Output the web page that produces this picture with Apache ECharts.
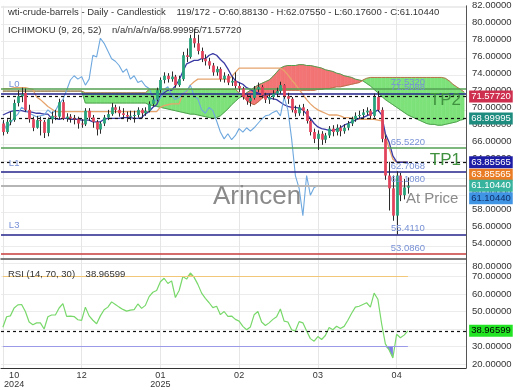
<!DOCTYPE html>
<html><head><meta charset="utf-8">
<script src="https://cdn.jsdelivr.net/npm/echarts@6/dist/echarts.min.js"></script>
<style>html,body{margin:0;padding:0;background:#fff}#c{width:520px;height:390px}</style>
</head><body><div id="c"></div>
<script>
// ---------- data ----------
const barCount = 124;                       // 109 price bars + future slots for the shifted cloud
const tickBars = [3, 21, 42, 63, 84, 105];
const tickTexts = ['10\n2024', '12', '01\n2025', '02', '03', '04'];
const gridBars = [0, 21, 42, 63, 84, 105];

const opens = [68.4,67.4,68.6,68.8,70.8,71.6,72.0,70.0,68.9,67.9,
 68.8,68.6,67.3,68.9,69.3,69.2,70.9,69.0,69.2,69.0,
 68.9,68.4,68.3,69.9,69.1,68.6,67.7,68.4,69.1,69.5,
 70.3,70.0,69.6,69.4,69.2,69.3,69.4,70.0,69.6,69.9,
 70.7,71.2,72.3,73.5,74.0,73.6,73.9,72.9,73.6,76.4,
 76.2,78.4,77.8,76.9,76.0,75.7,75.2,74.4,74.8,73.6,
 74.0,73.2,73.4,72.8,72.5,71.5,71.0,71.4,72.4,72.7,
 71.7,71.2,71.5,71.9,72.2,72.9,71.6,71.3,70.0,69.6,
 70.3,69.9,68.7,67.4,66.6,67.2,66.5,67.0,67.8,67.4,
 67.9,67.5,67.9,68.4,68.9,69.3,69.4,69.7,69.9,69.3,
 71.5,70.0,66.6,62.3,60.8,57.6,62.3,60.0,60.8813];
const closes = [67.4,68.6,68.8,70.8,71.6,71.8,70.0,68.9,67.9,68.8,
 68.7,67.3,68.9,69.3,69.2,70.9,69.0,69.2,69.0,68.9,
 68.4,68.3,69.9,69.1,68.6,67.7,68.4,69.1,69.5,70.3,
 70.0,69.6,69.4,69.2,69.3,69.4,70.0,69.6,69.9,70.7,
 71.2,72.3,73.5,74.0,73.6,73.9,72.9,73.6,76.4,76.2,
 78.4,77.8,76.9,76.0,75.7,75.2,74.4,74.8,73.6,74.0,
 73.2,73.4,72.8,72.5,71.5,71.0,71.4,72.4,72.7,71.7,
 71.2,71.5,71.9,72.2,72.9,71.6,71.3,70.0,69.6,70.3,
 69.9,68.7,67.4,66.6,67.2,66.5,67.0,67.8,67.4,67.9,
 67.5,67.9,68.4,68.9,69.3,69.4,69.7,69.9,69.3,71.5,
 70.0,66.6,62.3,60.8,57.6,62.3,60.0,60.9,61.1044];
const highs = [68.8,68.9,69.8,71.2,72.3,72.6,72.5,70.6,69.2,69.3,
 69.2,68.8,69.1,69.8,70.0,71.3,71.2,69.6,69.5,69.4,
 69.2,68.9,70.2,70.2,69.4,68.8,68.6,69.4,70.0,70.8,
 70.6,70.4,70.2,69.8,69.9,69.9,70.3,70.2,70.3,71.0,
 71.6,72.6,73.8,74.4,74.3,74.5,74.1,74.0,76.8,77.2,
 78.8,79.5,78.8,77.3,76.5,76.1,75.5,75.1,75.0,74.4,
 74.2,73.9,74.4,73.2,72.7,71.8,71.7,72.8,73.2,72.9,
 72.0,71.9,72.3,72.6,73.3,73.0,72.0,71.5,70.5,70.6,
 70.7,70.1,68.9,67.8,67.6,67.5,67.3,68.1,68.2,68.3,
 68.2,68.3,68.7,69.2,69.7,69.9,70.1,70.3,70.1,71.9,
 72.2,70.3,67.0,63.9,62.3,62.8,62.6,61.9,62.0755];
const lows = [67.0,67.2,68.2,68.6,70.4,70.9,69.8,68.5,67.5,67.8,
 67.0,66.7,66.9,68.4,68.8,68.9,68.8,68.6,68.5,68.3,
 67.8,67.9,68.1,68.7,67.9,67.0,67.2,68.1,68.8,69.3,
 69.6,69.2,69.0,68.6,68.8,68.5,69.1,69.0,69.3,69.7,
 70.4,71.0,72.0,73.1,73.2,73.3,72.6,72.7,73.4,75.6,
 76.0,77.3,76.5,75.6,75.2,74.8,74.0,74.0,73.3,73.2,
 72.9,72.8,72.5,72.1,71.2,70.6,70.4,71.2,72.1,71.4,
 70.8,70.7,71.2,71.6,71.9,71.3,70.7,69.7,69.2,69.3,
 69.3,68.4,67.0,66.1,65.3,65.9,66.1,66.7,66.9,67.0,
 66.9,67.2,67.6,68.1,68.6,69.0,69.1,69.4,68.9,69.1,
 69.8,66.2,61.8,58.2,57.0,55.4,59.3,59.5,60.176];

const tenkan = [69.4,69.6,69.8,69.9,69.9,69.9,69.8,69.8,69.7,69.6,
 69.6,69.5,69.5,69.0,69.0,68.9,69.0,69.0,68.9,68.9,
 68.9,68.8,68.8,68.8,68.6,68.6,68.6,68.9,69.0,69.0,
 69.0,69.0,69.1,69.1,69.1,69.0,69.0,69.1,69.5,69.8,
 70.3,70.6,71.6,72.0,72.3,72.3,72.8,73.5,74.5,75.4,
 75.6,75.8,75.8,76.0,76.0,76.4,76.6,76.4,75.9,75.5,
 74.8,74.0,73.4,73.2,73.0,72.6,72.4,72.1,72.0,71.8,
 71.6,71.4,71.3,71.2,70.9,70.6,70.4,70.3,70.3,70.2,
 70.0,69.5,69.0,68.4,68.0,67.8,67.7,67.6,67.6,67.7,
 67.9,68.2,68.4,68.6,68.8,69.0,69.1,69.3,69.5,69.7,
 70.0,69.4,67.2,66.2,64.6,63.9,63.86,63.86,63.86];
const kijun = [72.5,72.5,72.5,72.6,72.6,72.6,72.6,72.5,72.4,71.5,
 71.2,70.8,70.4,70.1,69.8,69.8,69.8,69.8,69.8,69.8,
 69.8,69.8,69.8,69.8,69.8,69.8,69.8,69.8,69.8,69.8,
 69.8,69.8,69.8,69.8,69.8,69.8,69.8,69.8,69.8,69.8,
 69.8,69.8,70.3,70.5,70.6,70.7,70.7,70.7,71.9,72.1,
 72.9,73.3,73.6,73.6,73.6,73.6,73.6,73.6,73.6,73.6,
 73.6,73.9,74.4,74.9,74.9,74.9,74.9,74.9,74.9,74.9,
 74.9,74.9,74.9,74.9,74.9,74.6,74.1,73.5,73.0,72.4,
 71.8,71.2,70.7,70.3,70.0,69.8,69.6,69.4,69.4,69.4,
 69.3,69.1,69.1,69.0,69.0,68.9,68.9,68.9,68.9,68.9,
 68.8,68.7,66.9,65.5,64.2,63.86,63.86,63.86,63.86];
const chikou = [68.6,67.7,68.4,69.1,69.5,70.3,70.0,69.6,69.4,69.2,
 69.3,69.4,70.0,69.6,69.9,70.7,71.2,72.3,73.5,74.0,
 73.6,73.9,72.9,73.6,76.4,76.2,78.4,77.8,76.9,76.0,
 75.7,75.2,74.4,74.8,73.6,74.0,73.2,73.4,72.8,72.5,
 71.5,71.0,71.4,72.4,72.7,71.7,71.2,71.5,71.9,72.2,
 72.9,71.6,71.3,70.0,69.6,70.3,69.9,68.7,67.4,66.6,
 67.2,66.5,67.0,67.8,67.4,67.9,67.5,67.9,68.4,68.9,
 69.3,69.4,69.7,69.9,69.3,71.5,70.0,66.6,62.3,60.8,
 57.6,62.3,60.0,60.9,61.1];
const spanA = [72.2,72.2,72.2,72.2,72.2,72.2,72.2,72.2,72.2,72.2,
 72.2,72.2,72.2,72.2,72.2,72.2,72.2,72.2,72.2,72.2,
 72.2,72.2,70.8,70.8,70.8,70.8,70.8,70.8,70.8,70.8,
 70.8,70.8,70.8,70.8,70.8,70.8,70.8,70.8,70.8,70.6,
 70.5,70.4,70.3,70.2,70.1,70.0,69.9,69.8,69.7,69.6,
 69.5,69.5,69.4,69.3,69.2,69.1,69.0,69.1,69.3,69.7,
 70.1,70.6,71.0,71.4,71.7,72.0,72.3,72.6,72.9,73.1,
 73.3,73.5,73.9,74.4,74.9,75.1,75.2,75.2,75.2,75.3,
 75.3,75.2,75.2,75.1,75.0,74.9,74.7,74.6,74.5,74.3,
 74.2,74.0,73.9,73.8,73.6,73.5,73.4,73.1,72.8,72.4,
 72.0,71.6,71.2,70.9,70.6,70.3,70.0,69.7,69.4,69.2,
 69.0,68.8,68.6,68.4,68.3,68.3,68.2,68.2,68.3,68.4,
 68.5,68.6,68.8,68.9];
const spanB = [72.2,72.2,72.2,72.2,72.2,72.2,72.2,72.2,72.2,72.2,
 72.2,72.2,72.2,72.2,72.2,72.2,72.2,72.2,72.2,72.2,
 72.2,72.2,72.0,72.0,72.0,72.0,72.0,72.0,72.0,72.0,
 72.0,72.0,72.0,72.0,72.0,72.0,72.0,72.0,72.0,72.4,
 72.4,72.4,72.4,72.4,72.4,72.4,72.4,72.4,72.4,72.4,
 72.4,72.4,72.4,72.4,72.4,72.4,72.4,72.4,72.4,72.4,
 72.4,72.4,72.4,72.0,71.6,71.1,70.8,70.6,70.9,71.3,
 71.6,71.7,71.9,72.1,72.3,72.3,72.3,72.3,72.3,72.3,
 72.3,72.3,72.3,72.3,72.4,72.4,72.5,72.5,72.6,72.7,
 72.7,72.8,72.9,73.0,73.1,73.2,73.5,73.7,73.8,73.8,
 73.8,73.8,73.8,73.8,73.8,73.8,73.8,73.8,73.8,73.8,
 73.8,73.8,73.8,73.8,73.8,73.8,73.8,73.8,73.7,73.4,
 73.0,72.7,72.4,72.1];
const rsi = [41,47,47.5,52,53.8,54,50,44,42.4,43.5,
 43.5,40,47,48,48,52,54.5,47.2,47.4,47.1,
 45.3,44.9,52.5,47.5,45,43,47.5,51,52.5,55.5,
 54,52.5,51.2,50.2,50.8,51.1,54.3,51.8,53.5,58.5,
 61,62,67,69,66,67.5,58,62,70,68.5,
 72,69.5,65.5,60.5,57.5,55,52.2,53,48.2,50,
 47.2,47.4,45.5,44.5,41.5,39.6,41.2,48.1,50,44,
 42,43.5,45.5,47,51.4,44.5,44,39.6,38.8,44.2,
 43.5,38.8,34.5,33,35.7,34,36.3,40.8,39.6,41.6,
 40.3,41.5,45,49,52.5,53,54,55,52.5,60.5,
 57,43,31.5,28,23.5,37,35,36.5,38.96599];

// horizontal levels (value, text)
const levelValues = [72.532, 71.9088, 65.522, 62.7068, 61.1044, 55.411, 53.086];
const levelTexts  = ['72.5320', '71.5088', '65.5220', '62.7068', '61.1080', '55.4110', '53.0860'];
const levelKinds  = ['tp', 'l', 'tp', 'l', 'price', 'l', 'stop'];
const tagNames = ['L0', 'L1', 'L3'];
const tagValues = [71.9088, 62.7068, 55.411];
const tpNames = ['TP2', 'TP1'];
const tpValues = [72.532, 65.522];
const dashValues = [71.5772, 68.99995, 63.85565];
const lastPrice = 61.1044;
const axisTagValues = [71.5772, 68.99995, 63.85565, 63.85565, 61.1044, 61.1044];
const axisTagTexts  = ['71.57720', '68.99995', '63.85565', '63.85565', '61.10440', '61.10440'];
const rsiLevels = [70, 30];
const rsiLast = 38.96599;
const rsiTop = 80;

// ---------- styles ----------
const FONT = 'Liberation Sans, Arial, Helvetica, sans-serif';
const kindStyle = {
  tp:    {color: '#55a055', width: 1.5},
  l:     {color: '#23238c', width: 1.5},
  price: {color: '#b5b5b5', width: 2},
  stop:  {color: '#c83c3c', width: 1.5}
};
const tagStyle = [
  {bg: '#cf2f4e', fg: '#fff', dy: 0},
  {bg: '#1f8c80', fg: '#fff', dy: 0},
  {bg: '#1d1da6', fg: '#fff', dy: 0},
  {bg: '#e97c24', fg: '#fff', dy: 12.5},
  {bg: '#38b49e', fg: '#fff', dy: 0},
  {bg: '#3f94e4', fg: '#10306a', dy: 12.5}
];

const cats = Array.from({length: barCount}, (_, i) => String(i));
const lastBar = closes.length - 1;

const candleData = opens.map((o, i) => [i, o, closes[i], lows[i], highs[i]]);
const cloudData = spanA.slice(0, -1).map((a, i) => [i, a, spanB[i], spanA[i + 1], spanB[i + 1]]);
const rsiSeg = rsi.slice(0, -1).map((v, i) => [i, v, rsi[i + 1]]);

function candleItem(params, api) {
  const i = api.value(0), o = api.value(1), c = api.value(2), l = api.value(3), h = api.value(4);
  const pO = api.coord([i, o]), pC = api.coord([i, c]), pL = api.coord([i, l]), pH = api.coord([i, h]);
  const bw = api.size([1, 0])[0] * 0.74;
  const x = Math.round(pO[0]) + 0.5;
  const top = Math.min(pO[1], pC[1]);
  const hh = Math.max(1, Math.abs(pO[1] - pC[1]));
  const col = c >= o ? '#27a27a' : '#e2435c';
  return {type: 'group', children: [
    {type: 'line', shape: {x1: x, y1: pH[1], x2: x, y2: pL[1]}, style: {stroke: '#2b2b2b', lineWidth: 1}},
    {type: 'rect', shape: {x: x - bw / 2, y: top, width: bw, height: hh}, style: {fill: col}}
  ]};
}
function cloudItem(params, api) {
  const i = api.value(0), a0 = api.value(1), b0 = api.value(2), a1 = api.value(3), b1 = api.value(4);
  const G = '#7ee27a', R = '#f27474';
  const d0 = a0 - b0, d1 = a1 - b1;
  const kids = [];
  if (d0 === 0 && d1 === 0) return {type: 'group', children: kids};
  const add = (pts, col) => kids.push({type: 'polygon', shape: {points: pts.map(p => api.coord(p))},
    style: {fill: col, stroke: col, lineWidth: 0.6}});
  if (d0 * d1 >= 0) {
    add([[i, a0], [i + 1, a1], [i + 1, b1], [i, b0]], (d0 + d1) > 0 ? R : G);
  } else {
    const t = d0 / (d0 - d1), xc = i + t, yc = a0 + t * (a1 - a0);
    add([[i, a0], [xc, yc], [i, b0]], d0 > 0 ? R : G);
    add([[xc, yc], [i + 1, a1], [i + 1, b1]], d1 > 0 ? R : G);
  }
  return {type: 'group', children: kids};
}
function rsiFillItem(params, api) {
  const i = api.value(0), v0 = api.value(1), v1 = api.value(2);
  const kids = [];
  [[rsiLevels[1], -1, '#7c7ce4'], [rsiLevels[0], 1, '#f1c77c']].forEach(([lv, dir, col]) => {
    const s0 = (v0 - lv) * dir, s1 = (v1 - lv) * dir;
    if (s0 <= 0 && s1 <= 0) return;
    let pts;
    if (s0 > 0 && s1 > 0) pts = [[i, lv], [i, v0], [i + 1, v1], [i + 1, lv]];
    else {
      const t = s0 / (s0 - s1), xc = i + t;
      pts = s0 > 0 ? [[i, lv], [i, v0], [xc, lv]] : [[xc, lv], [i + 1, v1], [i + 1, lv]];
    }
    kids.push({type: 'polygon', shape: {points: pts.map(p => api.coord(p))}, style: {fill: col}});
  });
  return {type: 'group', children: kids};
}

// markLines for the price panel
const priceLines = levelValues.map((v, k) => ({yAxis: v,
  lineStyle: {color: kindStyle[levelKinds[k]].color, width: kindStyle[levelKinds[k]].width, type: 'solid'}}))
  .concat(dashValues.map(v => ({yAxis: v, lineStyle: {color: '#111', width: 1.2, type: [3, 3]}})));

const pricePoints = []
  .concat(levelValues.map((v, k) => ({coord: [cats[lastBar], v],
    label: {show: true, position: 'top', distance: 1, formatter: levelTexts[k], color: '#7891d6', fontSize: 9.5}})))
  .concat(tagValues.map((v, k) => ({coord: [cats[3], v],
    label: {show: true, position: 'top', distance: 4, formatter: tagNames[k], color: '#7891d6', fontSize: 9.5}})))
  .concat(tpValues.map((v, k) => ({coord: [cats[118], v],
    label: {show: true, position: 'bottom', distance: 4, formatter: tpNames[k], color: '#3f913f', fontSize: 17}})))
  .concat([{coord: [cats[lastBar], lastPrice],
    label: {show: true, position: 'bottom', align: 'left', distance: 6, offset: [-2, 0], formatter: 'At Price', color: '#8a8a8a', fontSize: 15}}])
  .concat(axisTagValues.map((v, k) => ({coord: [cats[barCount - 1], v],
    label: {show: true, position: 'right', distance: 5, offset: [0, tagStyle[k].dy], formatter: axisTagTexts[k],
      color: tagStyle[k].fg, backgroundColor: tagStyle[k].bg, padding: [1, 2, 1, 2], fontSize: 9.5}})));

const rsiLineMarks = [
  [{coord: [cats[0], rsiLevels[0]], lineStyle: {color: '#f2c878', width: 1.2, type: 'solid'}}, {coord: [cats[lastBar], rsiLevels[0]]}],
  [{coord: [cats[0], rsiLevels[1]], lineStyle: {color: '#9a9ae8', width: 1.2, type: 'solid'}}, {coord: [cats[lastBar], rsiLevels[1]]}],
  {yAxis: rsiLast, lineStyle: {color: '#111', width: 1.2, type: [3, 3]}}
];

const splitFn = (idx) => gridBars.indexOf(idx) >= 0;
const labelFn = (idx) => tickBars.indexOf(idx) >= 0;

const option = {
  animation: false,
  textStyle: {fontFamily: FONT},
  title: [
    {text: 'wti-crude-barrels - Daily - Candlestick    119/172 - O:60.88130 - H:62.07550 - L:60.17600 - C:61.10440',
     left: 8, top: 7, padding: 0, textStyle: {fontSize: 9.5, fontWeight: 'normal', color: '#333', fontFamily: FONT}},
    {text: 'ICHIMOKU (9, 26, 52)    n/a/n/a/n/a/68.99995/71.57720',
     left: 8, top: 25, padding: 0, textStyle: {fontSize: 9.5, fontWeight: 'normal', color: '#333', fontFamily: FONT}},
    {text: 'RSI (14, 70, 30)    38.96599',
     left: 8, top: 269, padding: 0, textStyle: {fontSize: 9.5, fontWeight: 'normal', color: '#333', fontFamily: FONT}}
  ],
  graphic: [
    {type: 'text', left: 213, top: 184, z: 50, silent: true,
     style: {text: 'Arincen', font: '26px Liberation Sans, Arial, sans-serif', fill: '#8a8a8a'}}
  ],
  grid: [
    {left: 1, width: 465, top: 2.5, height: 260.9},
    {left: 1, width: 465, top: 259, height: 109}
  ],
  xAxis: [
    {type: 'category', gridIndex: 0, data: cats, boundaryGap: true,
     axisLine: {show: false}, axisTick: {show: false}, axisLabel: {show: false},
     splitLine: {show: true, interval: splitFn, alignWithLabel: true, lineStyle: {color: '#e6e6e6', width: 1}}},
    {type: 'category', gridIndex: 1, data: cats, boundaryGap: true, position: 'bottom',
     axisLine: {show: true, lineStyle: {color: '#333', width: 1}}, axisTick: {show: false},
     axisLabel: {show: true, interval: labelFn, formatter: (v, idx) => tickTexts[tickBars.indexOf(idx)] || '',
       fontSize: 9, lineHeight: 9, color: '#333', margin: 3},
     splitLine: {show: true, interval: splitFn, alignWithLabel: true, lineStyle: {color: '#e6e6e6', width: 1}}},
    {type: 'category', gridIndex: 1, data: cats, boundaryGap: true, position: 'top',
     axisLine: {show: true, lineStyle: {color: '#555', width: 1.5}}, axisTick: {show: false},
     axisLabel: {show: false}, splitLine: {show: false}}
  ],
  yAxis: [
    {type: 'value', gridIndex: 0, position: 'right', min: 52, max: 82.2, interval: 2,
     axisLine: {show: true, lineStyle: {color: '#555'}}, axisTick: {show: false},
     axisLabel: {showMaxLabel: false, hideOverlap: false, fontSize: 9.5, color: '#333', margin: 6, padding: [0, 0, 5, 0],
       formatter: v => v === 52 ? '{up|' + v.toFixed(5) + '}' : v.toFixed(5),
       rich: {up: {fontSize: 9.5, color: '#333', padding: [0, 0, 15, 0]}}},
     splitLine: {lineStyle: {color: '#ececec'}}},
    {type: 'value', gridIndex: 1, position: 'right', min: 17.71, max: rsiTop, splitNumber: 6,
     axisLine: {show: true, lineStyle: {color: '#555'}}, axisTick: {show: false},
     axisLabel: {showMinLabel: false, showMaxLabel: false, hideOverlap: false, fontSize: 9.5, color: '#333', margin: 6,
       padding: [0, 0, 3.5, 0], formatter: v => v.toFixed(5)},
     splitLine: {lineStyle: {color: '#ececec'}}}
  ],
  series: [
    {type: 'custom', name: 'cloud', xAxisIndex: 0, yAxisIndex: 0, z: 1, silent: true, clip: true,
     renderItem: cloudItem, encode: {x: 0, y: [1, 2, 3, 4]}, data: cloudData},
    {type: 'line', name: 'spanA', xAxisIndex: 0, yAxisIndex: 0, z: 2, silent: true, symbol: 'none',
     data: spanA, lineStyle: {color: '#4f9f4f', width: 1}},
    {type: 'line', name: 'spanB', xAxisIndex: 0, yAxisIndex: 0, z: 2, silent: true, symbol: 'none',
     data: spanB, lineStyle: {color: '#b8704a', width: 1}},
    {type: 'line', name: 'levels', xAxisIndex: 0, yAxisIndex: 0, z: 3, silent: true, data: [],
     markLine: {silent: true, animation: false, symbol: ['none', 'none'], label: {show: false}, data: priceLines},
     markPoint: {silent: true, animation: false, symbol: 'circle', symbolSize: 0, data: pricePoints}},
    {type: 'line', name: 'kijun', xAxisIndex: 0, yAxisIndex: 0, z: 4, silent: true, symbol: 'none',
     data: kijun, lineStyle: {color: '#e6a46c', width: 1.3}},
    {type: 'line', name: 'tenkan', xAxisIndex: 0, yAxisIndex: 0, z: 4, silent: true, symbol: 'none',
     data: tenkan, lineStyle: {color: '#3a3aa4', width: 1.3}},
    {type: 'line', name: 'chikou', xAxisIndex: 0, yAxisIndex: 0, z: 4, silent: true, symbol: 'none',
     data: chikou, lineStyle: {color: '#6ea8de', width: 1.1}},
    {type: 'custom', name: 'candles', xAxisIndex: 0, yAxisIndex: 0, z: 5, silent: true,
     renderItem: candleItem, encode: {x: 0, y: [1, 2, 3, 4]}, data: candleData},
    {type: 'custom', name: 'rsiFill', xAxisIndex: 1, yAxisIndex: 1, z: 2, silent: true,
     renderItem: rsiFillItem, encode: {x: 0, y: [1, 2]}, data: rsiSeg},
    {type: 'line', name: 'rsi', xAxisIndex: 1, yAxisIndex: 1, z: 3, silent: true, symbol: 'none',
     data: rsi, lineStyle: {color: '#78d86a', width: 1.2},
     markLine: {silent: true, animation: false, symbol: ['none', 'none'], label: {show: false}, data: rsiLineMarks},
     markPoint: {silent: true, animation: false, symbol: 'circle', symbolSize: 0,
       data: [
         {coord: [cats[barCount - 1], rsiLast], label: {show: true, position: 'right', distance: 5,
           formatter: rsiLast.toFixed(5), color: '#000', backgroundColor: '#22e422', padding: [1, 2, 1, 2], fontSize: 9.5}},
         {coord: [cats[barCount - 1], rsiTop], label: {show: true, position: 'right', distance: 8, offset: [0, 7.5],
           formatter: rsiTop.toFixed(5), color: '#333', fontSize: 9.5}}
       ]}}
  ]
};
const chart = echarts.init(document.getElementById('c'), null, {renderer: 'canvas', width: 520, height: 390});
chart.setOption(option);
</script>
</body></html>
